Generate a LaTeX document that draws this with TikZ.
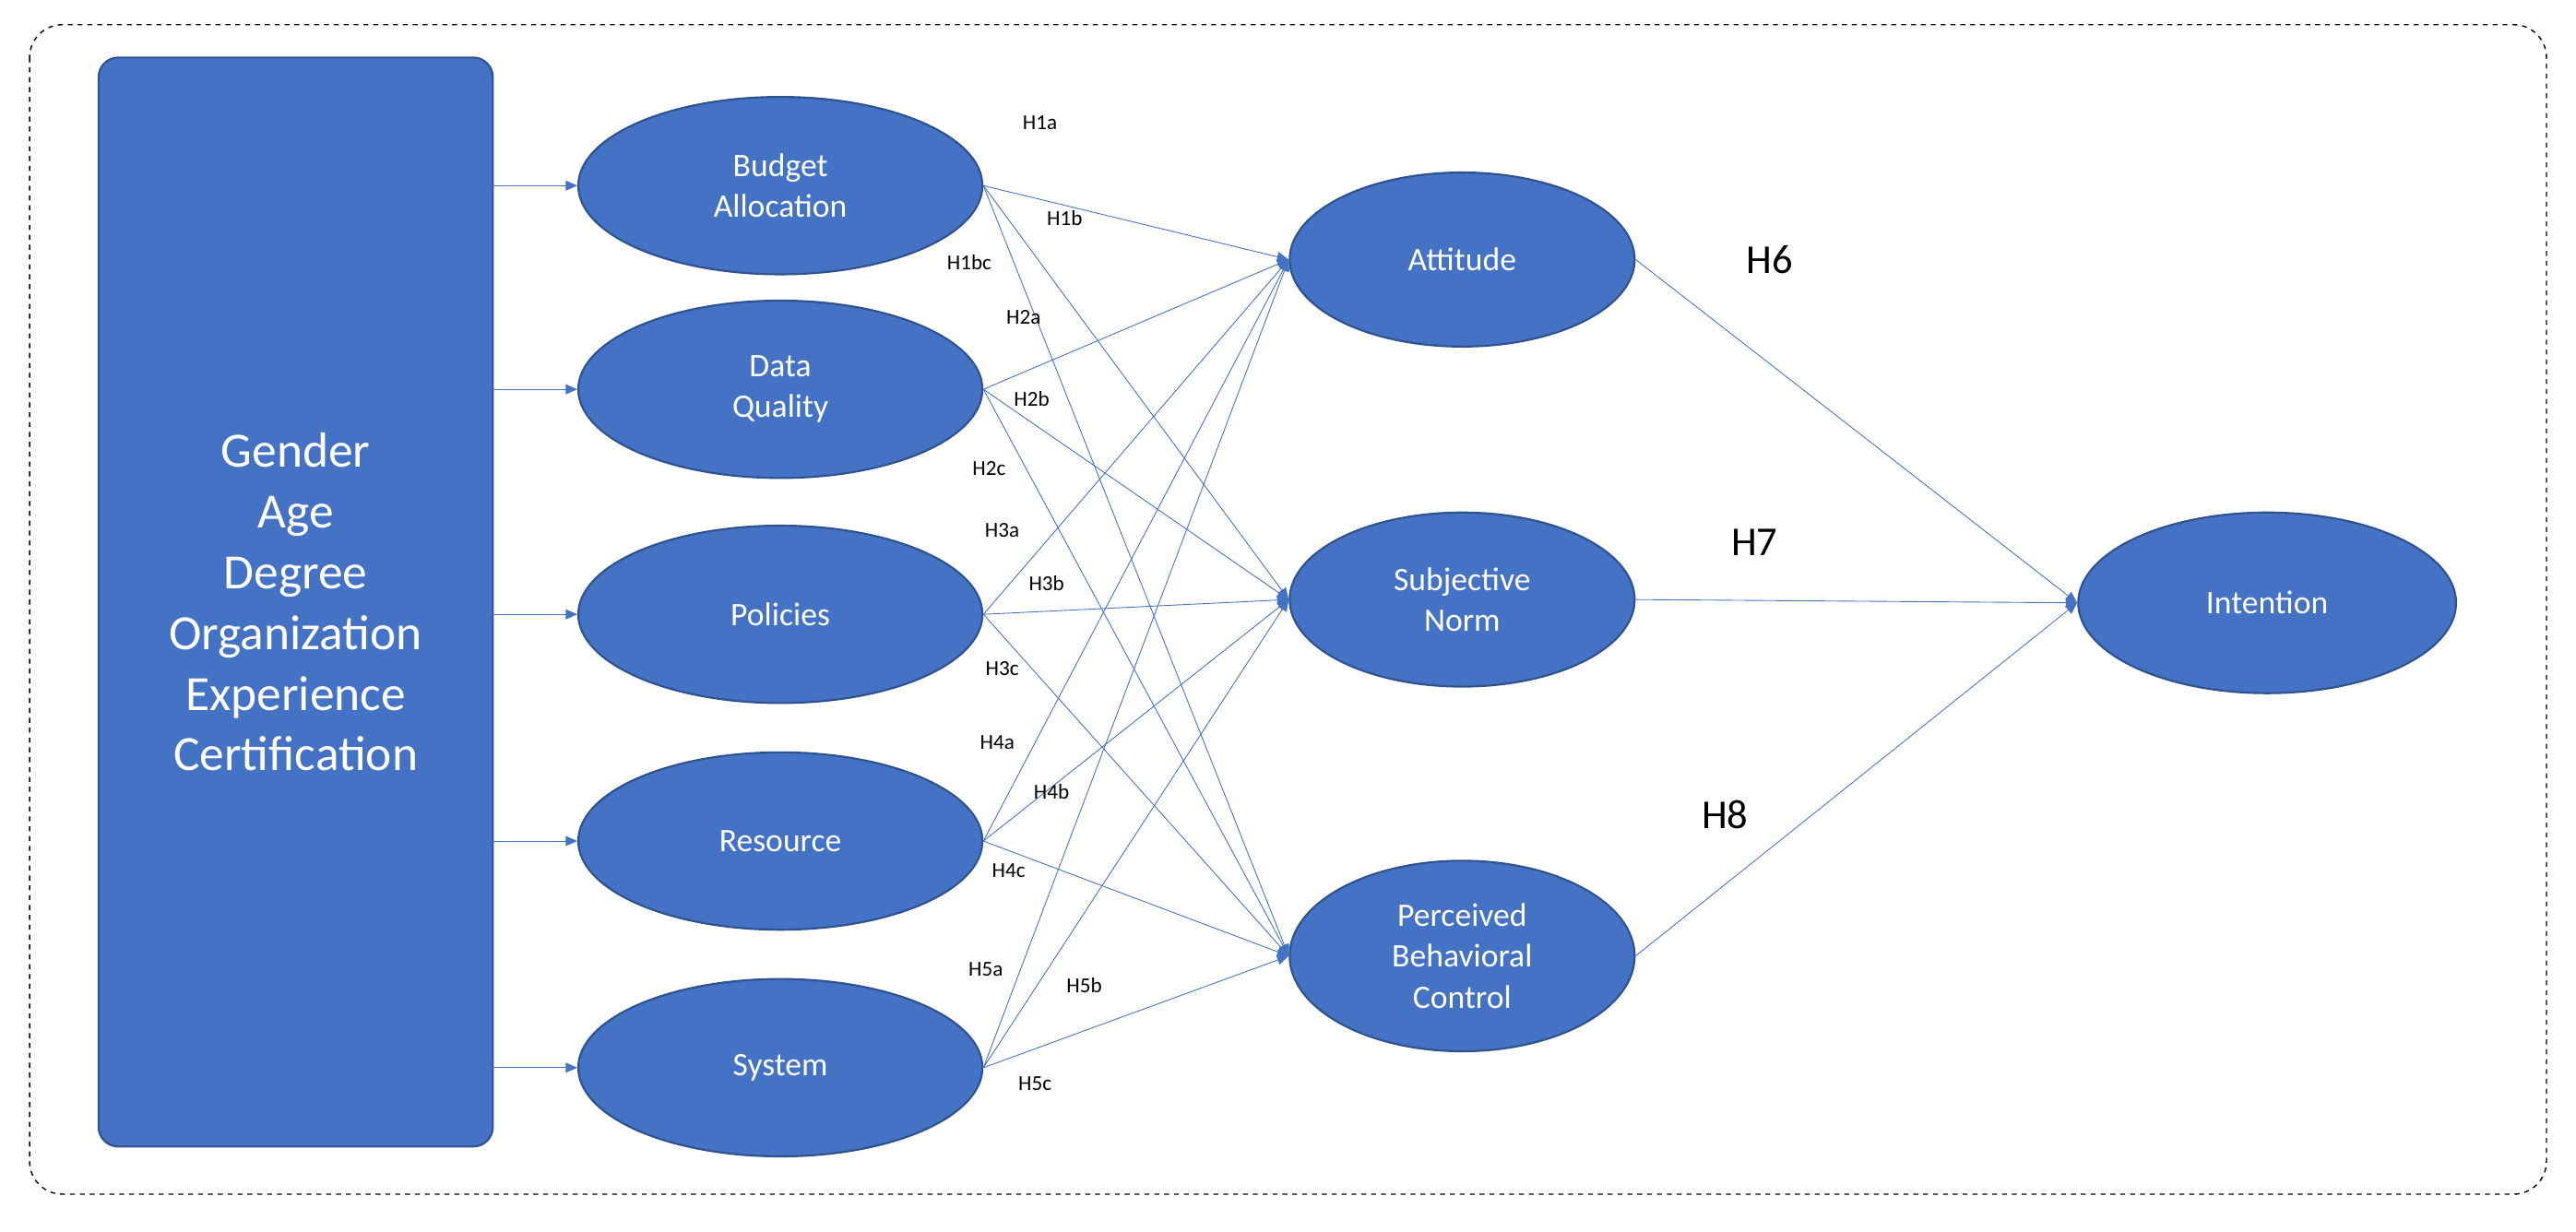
\documentclass[tikz,border=0pt]{standalone}
\usepackage{fontspec}
\setmainfont{Carlito}
\usetikzlibrary{shapes.geometric,arrows.meta}
\definecolor{fb}{HTML}{4472C4}
\definecolor{db}{HTML}{2F528F}
\begin{document}
\begin{tikzpicture}[x=1pt,y=-1pt,
  el/.style={ellipse,fill=fb,draw=db,line width=1.2pt,text=white,font=\fontsize{20}{25}\selectfont,align=center,inner sep=0pt},
  ar/.style={draw=fb,line width=0.5pt,-{Triangle[length=7pt,width=6pt]}},
  hl/.style={font=\fontsize{13}{15}\selectfont},
  hb/.style={font=\fontsize{25}{29}\selectfont}]
\useasboundingbox (0,0) rectangle (1568,750);
\draw[dashed,line width=0.8pt,rounded corners=20pt] (18,15) rectangle (1550,727);
\node[draw=db,fill=fb,line width=1.2pt,rounded corners=12pt,minimum width=240pt,minimum height=663pt,text=white,align=center,font=\fontsize{30}{37}\selectfont] (m) at (180,366.5) {Gender\\Age\\Degree\\Organization\\Experience\\Certification};
\foreach \n/\y/\t in {b/113/Budget\\Allocation, d/237/Data\\Quality, p/374/Policies, r/512/Resource, s/650/System}{
  \node[el,minimum width=246pt,minimum height=108pt] (\n) at (475,\y) {\t};
  \coordinate (m\n) at (300,\y);
  \draw[ar] (m\n) -- (\n.west);
}
\node[el,minimum width=210pt,minimum height=106pt] (a) at (890,158) {Attitude};
\node[el,minimum width=210pt,minimum height=106pt] (n) at (890,365) {Subjective\\Norm};
\node[el,minimum width=210pt,minimum height=116pt] (c) at (890,582) {Perceived\\Behavioral\\Control};
\node[el,minimum width=230pt,minimum height=110pt] (i) at (1380,367) {Intention};
\foreach \s in {b,d,p,r,s}{\foreach \t in {a,n,c}{\draw[ar] (\s.east) -- (\t.west);}}
\foreach \s in {a,n,c}{\draw[ar] (\s.east) -- (i.west);}
\foreach \t/\x/\y in {H1a/633/75,H1b/648/133,H1bc/590/160,H2a/623/193,H2b/628/243,H2c/602/285,H3a/610/323,H3b/637/355,H3c/610/407,H4a/607/452,H4b/640/482,H4c/614/530,H5a/600/590,H5b/660/600,H5c/630/660}{
  \node[hl] (l\t) at (\x,\y) {\t};}
\node[hb] (h6) at (1077,158) {H6};
\node[hb] (h7) at (1068,330) {H7};
\node[hb] (h8) at (1050,496) {H8};
\end{tikzpicture}
\end{document}
